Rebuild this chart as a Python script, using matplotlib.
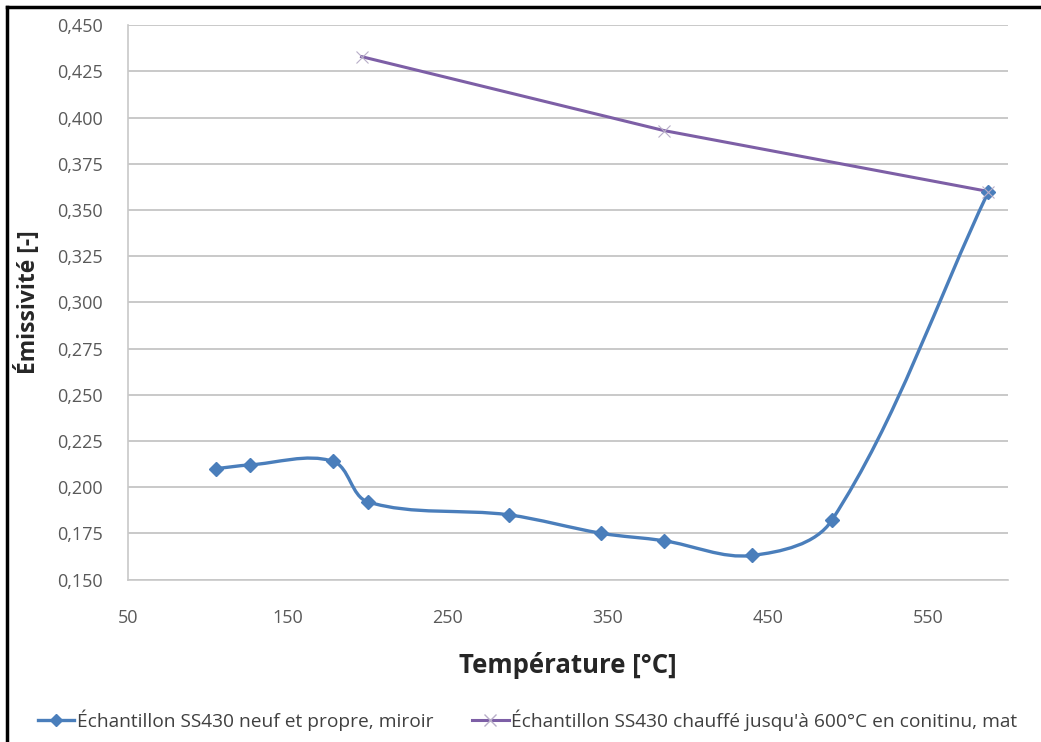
import numpy as np
import matplotlib.pyplot as plt
from matplotlib.path import Path
from matplotlib.patches import PathPatch
from matplotlib.lines import Line2D
from matplotlib.ticker import FuncFormatter, MultipleLocator

plt.rcParams['font.family'] = ['Open Sans', 'DejaVu Sans']

# Échantillon SS430 neuf et propre, miroir
temp_neuf = [105, 126, 178, 200, 288, 346, 385, 440, 490, 588]
emis_neuf = [0.210, 0.212, 0.214, 0.192, 0.185, 0.175, 0.171, 0.163, 0.182, 0.360]

# Échantillon SS430 chauffé jusqu'à 600°C en conitinu, mat
temp_chauffe = [196, 385, 588]
emis_chauffe = [0.433, 0.393, 0.360]

label_neuf = "Échantillon SS430 neuf et propre, miroir"
label_chauffe = "Échantillon SS430 chauffé jusqu'à 600°C en conitinu, mat"

blue = "#4a7ebb"
purple = "#7d5fa6"


def smooth_path(ax, xs, ys):
    # courbe lissée façon Excel, calculée en pixels puis ramenée aux données
    pts = ax.transData.transform(np.column_stack([xs, ys]))
    n = len(pts)
    verts = [pts[0]]
    codes = [Path.MOVETO]

    def tangent(i):
        a = pts[max(i - 1, 0)]
        b = pts[min(i + 1, n - 1)]
        d = b - a
        return d / np.hypot(*d)

    for i in range(n - 1):
        p1, p2 = pts[i], pts[i + 1]
        L = np.hypot(*(p2 - p1)) / 3.0
        c1 = p1 + tangent(i) * L
        c2 = p2 - tangent(i + 1) * L
        verts += [c1, c2, p2]
        codes += [Path.CURVE4] * 3
    verts = ax.transData.inverted().transform(np.array(verts))
    return Path(verts, codes)


fig = plt.figure(figsize=(10.41, 7.42), dpi=100)
ax = fig.add_axes([0.123, 0.219, 0.845, 0.747])
ax.set_xlim(50, 600)
ax.set_ylim(0.150, 0.450)

ax.add_patch(PathPatch(smooth_path(ax, temp_neuf, emis_neuf), facecolor="none",
                       edgecolor=blue, lw=2.4, zorder=3))
ax.plot(temp_neuf, emis_neuf, ls="none", marker="D", ms=7, color=blue, zorder=4)

ax.plot(temp_chauffe, emis_chauffe, color=purple, lw=2.2, zorder=3)
ax.plot(temp_chauffe, emis_chauffe, ls="none", marker="x", ms=9, mew=0.8,
        color="#b8aec8", zorder=4)

ax.set_xticks(np.arange(50, 600, 100))
ax.yaxis.set_major_locator(MultipleLocator(0.025))
ax.yaxis.set_major_formatter(FuncFormatter(lambda v, p: f"{v:.3f}".replace(".", ",")))

ax.grid(axis="y", color="#c0c0c0", lw=1.2)
ax.set_axisbelow(True)
for s in ["top", "right"]:
    ax.spines[s].set_visible(False)
for s in ["left", "bottom"]:
    ax.spines[s].set_color("#c8c8c8")
    ax.spines[s].set_linewidth(1.2)
ax.tick_params(length=0, labelsize=13, labelcolor="#595959")
ax.tick_params(axis="y", pad=18)
ax.tick_params(axis="x", pad=21)

ax.set_xlabel("Température [°C]", fontsize=18.5, fontweight="bold", color="#262626", labelpad=18)
ax.set_ylabel("Émissivité [-]", fontsize=16.5, fontweight="bold", color="#262626", labelpad=12)

handles = [
    Line2D([], [], color=blue, lw=2.4, marker="D", ms=6),
    Line2D([], [], color=purple, lw=2.2, marker="x", ms=8, mec="#b8aec8"),
]
fig.legend(handles, [label_neuf, label_chauffe], loc="lower left",
           bbox_to_anchor=(0.02, -0.008), ncol=2, frameon=False,
           fontsize=13.8, handlelength=1.9, handletextpad=0.15,
           columnspacing=2.0, labelcolor="#404040")

# cadre de l'image
fig.add_artist(Line2D([0.007, 0.007], [0, 0.991], color="black", lw=2.5, transform=fig.transFigure))
fig.add_artist(Line2D([0.007, 1.0], [0.991, 0.991], color="black", lw=2.5, transform=fig.transFigure))

fig.savefig("out.png", dpi=100)
